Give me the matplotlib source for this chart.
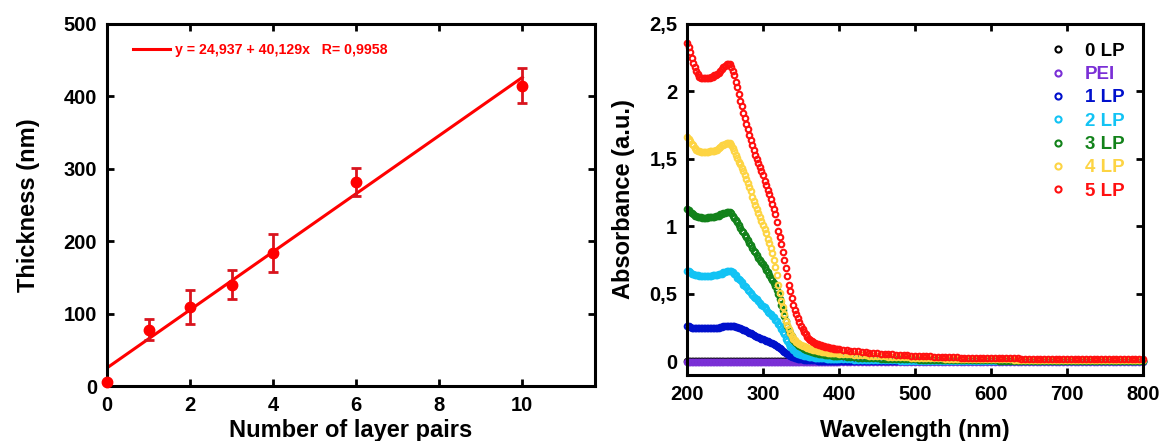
import numpy as np
import matplotlib.pyplot as plt
from matplotlib.ticker import FixedLocator, FixedFormatter

plt.rcParams['font.family'] = ['Liberation Sans', 'DejaVu Sans']
plt.rcParams['font.weight'] = 'bold'

# --- thickness vs number of layer pairs ---
layer_pairs = [0, 1, 2, 3, 4, 6, 10]
thickness = [5, 78, 109, 140, 184, 282, 415]
thickness_err = [0, 14, 23, 20, 26, 19, 24]
fit_a, fit_b = 24.937, 40.129
fit_label = "y = 24,937 + 40,129x   R= 0,9958"

# --- UV-vis spectra: 2 nm steps up to 400 nm, 5 nm steps after ---
wl = np.concatenate([np.arange(200, 401, 2), np.arange(405, 801, 5)])

abs_5lp = [
    2.36, 2.33, 2.29, 2.25, 2.21, 2.18, 2.15, 2.13, 2.11, 2.10,
    2.10, 2.10, 2.10, 2.10, 2.10, 2.10, 2.11, 2.11, 2.12, 2.12,
    2.13, 2.14, 2.15, 2.17, 2.18, 2.19, 2.20, 2.20, 2.20, 2.18,
    2.15, 2.12, 2.07, 2.03, 1.98, 1.93, 1.89, 1.84, 1.80, 1.76,
    1.72, 1.68, 1.64, 1.60, 1.57, 1.53, 1.50, 1.47, 1.44, 1.41,
    1.38, 1.34, 1.31, 1.27, 1.24, 1.20, 1.17, 1.13, 1.09, 1.03,
    0.97, 0.92, 0.87, 0.81, 0.75, 0.69, 0.63, 0.57, 0.52, 0.47,
    0.42, 0.38, 0.35, 0.32, 0.29, 0.26, 0.24, 0.22, 0.20, 0.185,
    0.17, 0.162, 0.155, 0.147, 0.14, 0.133, 0.128, 0.123, 0.119, 0.115,
    0.111, 0.108, 0.106, 0.104, 0.102, 0.100, 0.098, 0.096, 0.094, 0.092,
    0.090,
    0.087, 0.083, 0.080, 0.077, 0.074, 0.071, 0.068, 0.066, 0.063, 0.061,
    0.059, 0.056, 0.054, 0.052, 0.050, 0.048, 0.047, 0.045, 0.044, 0.042,
    0.041, 0.039, 0.038, 0.037, 0.036, 0.035, 0.034, 0.033, 0.032, 0.031,
    0.030, 0.029, 0.029, 0.028, 0.028, 0.027, 0.027, 0.026, 0.026, 0.025,
    0.025, 0.024, 0.024, 0.024, 0.023, 0.023, 0.023, 0.022, 0.022, 0.022,
    0.021, 0.021, 0.021, 0.021, 0.020, 0.020, 0.020, 0.020, 0.019, 0.019,
    0.019, 0.019, 0.018, 0.018, 0.018, 0.018, 0.018, 0.017, 0.017, 0.017,
    0.017, 0.017, 0.016, 0.016, 0.016, 0.016, 0.016, 0.015, 0.015, 0.015]
abs_4lp = [
    1.66, 1.65, 1.63, 1.61, 1.60, 1.58, 1.57, 1.56, 1.56, 1.55,
    1.55, 1.55, 1.55, 1.55, 1.55, 1.56, 1.56, 1.56, 1.56, 1.57,
    1.57, 1.58, 1.59, 1.60, 1.60, 1.61, 1.62, 1.62, 1.62, 1.60,
    1.58, 1.56, 1.53, 1.51, 1.48, 1.46, 1.43, 1.41, 1.38, 1.35,
    1.32, 1.29, 1.26, 1.22, 1.19, 1.16, 1.13, 1.10, 1.07, 1.04,
    1.01, 0.98, 0.95, 0.91, 0.88, 0.84, 0.80, 0.75, 0.70, 0.64,
    0.57, 0.51, 0.45, 0.40, 0.35, 0.30, 0.27, 0.24, 0.21, 0.19,
    0.17, 0.158, 0.148, 0.139, 0.131, 0.124, 0.118, 0.112, 0.107, 0.102,
    0.098, 0.094, 0.091, 0.088, 0.085, 0.082, 0.080, 0.077, 0.075, 0.073,
    0.071, 0.069, 0.068, 0.066, 0.065, 0.064, 0.063, 0.062, 0.061, 0.060,
    0.059,
    0.057, 0.055, 0.053, 0.051, 0.049, 0.047, 0.045, 0.043, 0.042, 0.040,
    0.039, 0.037, 0.036, 0.035, 0.034, 0.032, 0.031, 0.030, 0.029, 0.028,
    0.027, 0.026, 0.026, 0.025, 0.024, 0.023, 0.023, 0.022, 0.021, 0.021,
    0.020, 0.020, 0.019, 0.019, 0.018, 0.018, 0.017, 0.017, 0.017, 0.016,
    0.016, 0.016, 0.015, 0.015, 0.015, 0.014, 0.014, 0.014, 0.014, 0.013,
    0.013, 0.013, 0.013, 0.012, 0.012, 0.012, 0.012, 0.012, 0.011, 0.011,
    0.011, 0.011, 0.011, 0.010, 0.010, 0.010, 0.010, 0.010, 0.010, 0.009,
    0.009, 0.009, 0.009, 0.009, 0.009, 0.009, 0.008, 0.008, 0.008, 0.008]
abs_3lp = [
    1.13, 1.12, 1.11, 1.10, 1.09, 1.08, 1.08, 1.07, 1.07, 1.07,
    1.06, 1.06, 1.06, 1.06, 1.07, 1.07, 1.07, 1.07, 1.07, 1.08,
    1.08, 1.08, 1.09, 1.09, 1.10, 1.10, 1.11, 1.11, 1.11, 1.10,
    1.08, 1.06, 1.05, 1.03, 1.01, 0.99, 0.97, 0.96, 0.94, 0.92,
    0.90, 0.88, 0.86, 0.84, 0.82, 0.81, 0.79, 0.77, 0.75, 0.74,
    0.72, 0.70, 0.68, 0.66, 0.64, 0.62, 0.60, 0.58, 0.56, 0.53,
    0.50, 0.46, 0.42, 0.38, 0.34, 0.30, 0.26, 0.23, 0.21, 0.19,
    0.16, 0.148, 0.136, 0.125, 0.116, 0.108, 0.100, 0.094, 0.088, 0.083,
    0.078, 0.074, 0.071, 0.068, 0.065, 0.062, 0.060, 0.058, 0.056, 0.054,
    0.052, 0.050, 0.049, 0.047, 0.046, 0.045, 0.044, 0.042, 0.041, 0.040,
    0.039,
    0.037, 0.035, 0.033, 0.031, 0.029, 0.028, 0.026, 0.025, 0.024, 0.023,
    0.022, 0.021, 0.020, 0.019, 0.018, 0.017, 0.017, 0.016, 0.015, 0.015,
    0.014, 0.014, 0.013, 0.013, 0.012, 0.012, 0.011, 0.011, 0.011, 0.010,
    0.010, 0.010, 0.009, 0.009, 0.009, 0.009, 0.008, 0.008, 0.008, 0.008,
    0.008, 0.007, 0.007, 0.007, 0.007, 0.007, 0.007, 0.006, 0.006, 0.006,
    0.006, 0.006, 0.006, 0.006, 0.006, 0.005, 0.005, 0.005, 0.005, 0.005,
    0.005, 0.005, 0.005, 0.005, 0.005, 0.004, 0.004, 0.004, 0.004, 0.004,
    0.004, 0.004, 0.004, 0.004, 0.004, 0.004, 0.004, 0.004, 0.004, 0.004]
abs_2lp = [
    0.67, 0.67, 0.66, 0.65, 0.65, 0.64, 0.64, 0.64, 0.63, 0.63,
    0.63, 0.63, 0.63, 0.63, 0.63, 0.63, 0.63, 0.64, 0.64, 0.64,
    0.64, 0.65, 0.65, 0.65, 0.66, 0.66, 0.67, 0.67, 0.67, 0.67,
    0.66, 0.65, 0.64, 0.62, 0.61, 0.60, 0.59, 0.57, 0.56, 0.55,
    0.53, 0.52, 0.51, 0.49, 0.48, 0.47, 0.46, 0.45, 0.43, 0.42,
    0.41, 0.40, 0.39, 0.37, 0.36, 0.35, 0.34, 0.33, 0.31, 0.30,
    0.28, 0.26, 0.24, 0.22, 0.20, 0.17, 0.15, 0.13, 0.11, 0.10,
    0.085, 0.075, 0.066, 0.059, 0.053, 0.048, 0.045, 0.042, 0.039, 0.037,
    0.035, 0.033, 0.032, 0.030, 0.029, 0.028, 0.027, 0.026, 0.025, 0.025,
    0.024, 0.023, 0.022, 0.022, 0.021, 0.021, 0.020, 0.020, 0.019, 0.019,
    0.018,
    0.017, 0.016, 0.015, 0.014, 0.013, 0.012, 0.012, 0.011, 0.010, 0.010,
    0.009, 0.009, 0.008, 0.008, 0.008, 0.007, 0.007, 0.007, 0.006, 0.006,
    0.006, 0.006, 0.005, 0.005, 0.005, 0.005, 0.005, 0.004, 0.004, 0.004,
    0.004, 0.004, 0.004, 0.003, 0.003, 0.003, 0.003, 0.003, 0.003, 0.003,
    0.003, 0.003, 0.002, 0.002, 0.002, 0.002, 0.002, 0.002, 0.002, 0.002,
    0.002, 0.002, 0.002, 0.002, 0.002, 0.002, 0.002, 0.001, 0.001, 0.001,
    0.001, 0.001, 0.001, 0.001, 0.001, 0.001, 0.001, 0.001, 0.001, 0.001,
    0.001, 0.001, 0.001, 0.001, 0.001, 0.001, 0.001, 0.001, 0.001, 0.001]
abs_1lp = [
    0.26, 0.26, 0.255, 0.25, 0.25, 0.25, 0.25, 0.245, 0.245, 0.245,
    0.245, 0.245, 0.245, 0.245, 0.245, 0.245, 0.245, 0.245, 0.25, 0.25,
    0.25, 0.25, 0.255, 0.255, 0.26, 0.26, 0.26, 0.265, 0.265, 0.265,
    0.26, 0.26, 0.258, 0.255, 0.25, 0.245, 0.24, 0.235, 0.23, 0.225,
    0.22, 0.214, 0.208, 0.202, 0.196, 0.19, 0.184, 0.178, 0.173, 0.168,
    0.165, 0.16, 0.155, 0.15, 0.145, 0.14, 0.135, 0.13, 0.125, 0.115,
    0.105, 0.097, 0.089, 0.081, 0.073, 0.065, 0.057, 0.049, 0.042, 0.036,
    0.032, 0.028, 0.025, 0.022, 0.019, 0.017, 0.015, 0.014, 0.013, 0.012,
    0.011, 0.010, 0.009, 0.009, 0.008, 0.008, 0.007, 0.007, 0.007, 0.006,
    0.006, 0.006, 0.005, 0.005, 0.005, 0.005, 0.005, 0.004, 0.004, 0.004,
    0.004,
    0.004, 0.003, 0.003, 0.003, 0.003, 0.003, 0.002, 0.002, 0.002, 0.002,
    0.002, 0.002, 0.002, 0.001, 0.001, 0.001, 0.001, 0.001, 0.001, 0.001,
    0.0, 0.0, 0.0, 0.0, 0.0, 0.0, 0.0, 0.0, 0.0, 0.0,
    0.0, 0.0, 0.0, 0.0, 0.0, 0.0, 0.0, 0.0, 0.0, 0.0,
    0.0, 0.0, 0.0, 0.0, 0.0, 0.0, 0.0, 0.0, 0.0, 0.0,
    0.0, 0.0, 0.0, 0.0, 0.0, 0.0, 0.0, 0.0, 0.0, 0.0,
    0.0, 0.0, 0.0, 0.0, 0.0, 0.0, 0.0, 0.0, 0.0, 0.0,
    0.0, 0.0, 0.0, 0.0, 0.0, 0.0, 0.0, 0.0, 0.0, 0.0]
# bare substrate and PEI primer sit flat on the baseline
abs_pei = [-0.005] * len(wl)
abs_0lp = [0.0] * len(wl)

spectra = [
    ("0 LP", abs_0lp, "#000000"),
    ("PEI", abs_pei, "#7A2FD6"),
    ("1 LP", abs_1lp, "#0010CC"),
    ("2 LP", abs_2lp, "#12C3F4"),
    ("3 LP", abs_3lp, "#12821A"),
    ("4 LP", abs_4lp, "#FDD443"),
    ("5 LP", abs_5lp, "#FF1010"),
]

abs_ticks = [0, 0.5, 1, 1.5, 2, 2.5]
abs_ticklabels = ["0", "0,5", "1", "1,5", "2", "2,5"]

fig = plt.figure(figsize=(11.64, 4.41), dpi=100)
ax1 = fig.add_axes([0.0919, 0.1247, 0.4193, 0.8209])
ax2 = fig.add_axes([0.5902, 0.1497, 0.3918, 0.7959])


def style_axes(ax):
    for sp in ax.spines.values():
        sp.set_linewidth(2.2)
    ax.tick_params(direction='in', width=2, length=5, top=True, right=True,
                   labelsize=14.5, pad=7)
    for lab in ax.get_xticklabels() + ax.get_yticklabels():
        lab.set_fontweight('bold')


# left panel
xfit = np.array([0, 10])
ax1.plot(xfit, fit_a + fit_b * xfit, color='#FF0000', lw=2.2, label=fit_label)
ax1.errorbar(layer_pairs[1:], thickness[1:], yerr=thickness_err[1:], fmt='none',
             ecolor='#D9141E', elinewidth=2, capsize=3.5, capthick=2, zorder=3)
ax1.plot(layer_pairs, thickness, 'o', color='#FF0000', ms=7.5, clip_on=False, zorder=4)
ax1.set_xlim(0, 11.75)
ax1.set_ylim(0, 500)
ax1.set_xticks([0, 2, 4, 6, 8, 10])
ax1.set_yticks([0, 100, 200, 300, 400, 500])
style_axes(ax1)
ax1.set_xlabel("Number of layer pairs", fontsize=17, fontweight='bold', labelpad=3)
ax1.set_ylabel("Thickness (nm)", fontsize=17, fontweight='bold', labelpad=17)
ax1.legend(loc='upper left', bbox_to_anchor=(0.042, 0.963), borderaxespad=0,
           frameon=False, fontsize=10.2, handlelength=2.6, handletextpad=0.35,
           labelcolor='#FF0000')

# right panel
for name, vals, col in spectra:
    ax2.plot(wl, vals, 'o', mfc='none', mec=col, mew=1.5, ms=4.0, label=name,
             clip_on=False)
ax2.set_xlim(200, 800)
ax2.set_ylim(-0.1, 2.5)
ax2.set_xticks([200, 300, 400, 500, 600, 700, 800])
ax2.yaxis.set_major_locator(FixedLocator(abs_ticks))
ax2.yaxis.set_major_formatter(FixedFormatter(abs_ticklabels))
style_axes(ax2)
ax2.set_xlabel("Wavelength (nm)", fontsize=17, fontweight='bold', labelpad=11)
ax2.set_ylabel("Absorbance (a.u.)", fontsize=17, fontweight='bold', labelpad=10)
ax2.legend(loc='upper right', frameon=False, fontsize=13.5, markerscale=1.1,
           handlelength=1.0, handletextpad=0.9, labelspacing=0.33,
           borderaxespad=0.6, labelcolor='markeredgecolor')

fig.savefig("out.png", dpi=100)
